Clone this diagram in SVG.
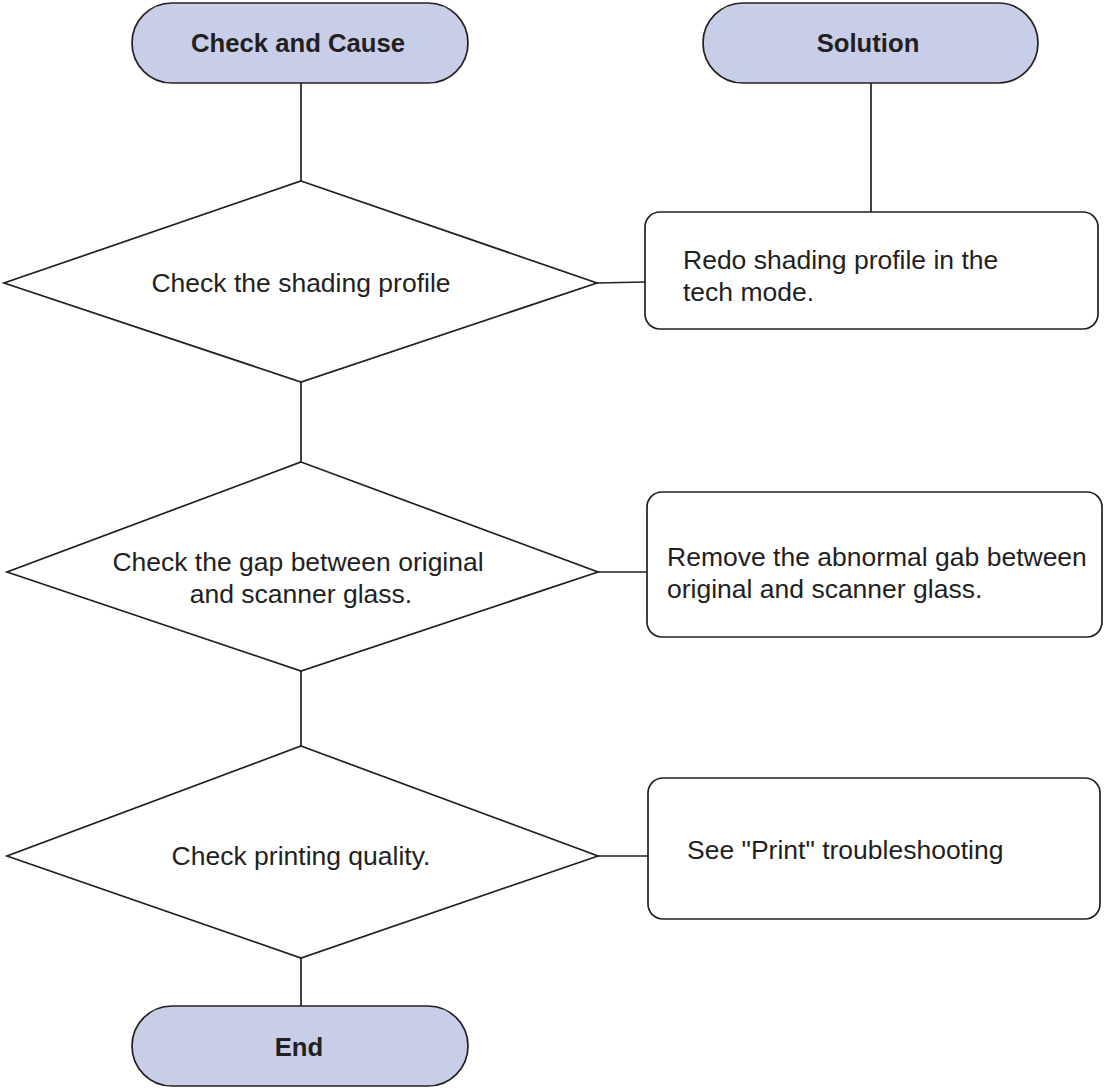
<svg xmlns="http://www.w3.org/2000/svg" width="1104" height="1090" viewBox="0 0 1104 1090">
<style>
.term{fill:#c9cee8;stroke:#231f20;stroke-width:1.7}
.dec{fill:#ffffff;stroke:#231f20;stroke-width:1.7}
.box{fill:#ffffff;stroke:#231f20;stroke-width:1.7}
.conn line{stroke:#231f20;stroke-width:1.7}
.t{font-family:"Liberation Sans",Arial,sans-serif;font-size:26.5px;fill:#231f20}
.tb{font-family:"Liberation Sans",Arial,sans-serif;font-size:25.7px;font-weight:bold;fill:#231f20;text-anchor:middle}
.c{text-anchor:middle}
</style>
<rect width="1104" height="1090" fill="#ffffff"/>
<g id="connectors" class="conn">
<line x1="301" y1="83" x2="301" y2="181"/>
<line x1="871" y1="83" x2="871" y2="212"/>
<line x1="597" y1="283" x2="645" y2="282"/>
<line x1="301" y1="382" x2="301" y2="462"/>
<line x1="598" y1="572" x2="647" y2="572"/>
<line x1="301" y1="671" x2="301" y2="746"/>
<line x1="598" y1="856" x2="648" y2="856"/>
<line x1="301" y1="958" x2="301" y2="1006"/>
</g>
<g id="start">
<rect class="term" x="132" y="3" width="336" height="80" rx="40" ry="40"/>
<text class="tb" x="298" y="52">Check and Cause</text>
</g>
<g id="solution">
<rect class="term" x="703" y="3" width="335" height="80" rx="40" ry="40"/>
<text class="tb" x="868" y="52">Solution</text>
</g>
<g id="d1">
<polygon class="dec" points="301,181 597,283 301,382 4,283"/>
<text class="t c" x="301" y="292">Check the shading profile</text>
</g>
<g id="s1">
<rect class="box" x="645" y="212" width="453" height="117" rx="15"/>
<text class="t" x="683" y="269">Redo shading profile in the</text>
<text class="t" x="683" y="301">tech mode.</text>
</g>
<g id="d2">
<polygon class="dec" points="301,462 598,572 301,671 7,572"/>
<text class="t c" x="298" y="571">Check the gap between original</text>
<text class="t c" x="301" y="603">and scanner glass.</text>
</g>
<g id="s2">
<rect class="box" x="647" y="492" width="455" height="145" rx="15"/>
<text class="t" x="667" y="566">Remove the abnormal gab between</text>
<text class="t" x="667" y="598">original and scanner glass.</text>
</g>
<g id="d3">
<polygon class="dec" points="301,746 598,856 301,958 7,856"/>
<text class="t c" x="301" y="865">Check printing quality.</text>
</g>
<g id="s3">
<rect class="box" x="648" y="778" width="452" height="141" rx="15"/>
<text class="t" x="687" y="859">See "Print" troubleshooting</text>
</g>
<g id="end">
<rect class="term" x="132" y="1006" width="336" height="80" rx="40" ry="40"/>
<text class="tb" x="299" y="1056">End</text>
</g>
</svg>
